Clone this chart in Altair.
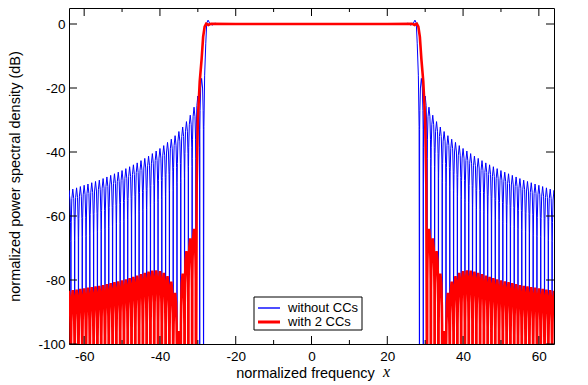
import altair as alt
import pandas as pd

# ---------------- data (right half, x >= 0; the figure is mirror-symmetric) -------------
series_names = ["without CCs", "with 2 CCs"]
series_colors = ["#0000ff", "#ff0000"]
series_widths = [1.0, 2.6]

# passband + roll-off of the curve without cancellation carriers
blue_pass_x = [0, 20, 24.5, 25.5, 26.2, 26.8, 27.3, 27.65, 27.9, 28.2, 28.4]
blue_pass_db = [0, 0, 0.0, 0.25, -0.35, 0.1, 1.2, 0.3, -6, -16, -32]
# side-lobe maxima (one lobe per unit of x, centred on integers)
blue_lobe_center = list(range(29, 65))
blue_lobe_peak_db = [-17, -22.5, -26, -28.5, -30.5, -32.2, -33.6, -34.9, -36.0, -37.0,
                     -38.0, -38.9, -39.7, -40.5, -41.3, -42.0, -42.7, -43.4, -44.0, -44.6,
                     -45.2, -45.8, -46.3, -46.8, -47.3, -47.8, -48.3, -48.8, -49.2, -49.6,
                     -50.0, -50.4, -50.8, -51.2, -51.6, -52.0]

# passband + roll-off with 2 cancellation carriers
red_pass_x = [0, 20, 26.5, 27.2, 27.8, 28.2, 28.6, 29.0, 29.5, 30.0, 30.3]
red_pass_db = [0, 0, 0.1, -0.3, 0.1, -0.8, -4, -11, -18, -30, -50]
red_lobe_center = list(range(31, 65))
red_lobe_peak_db = [-64, -67, -71, -78, -96, -84, -80.5, -78.8, -77.8, -77.2,
                    -77.0, -77.1, -77.4, -77.8, -78.2, -78.6, -79.0, -79.4, -79.8, -80.1,
                    -80.4, -80.7, -81.0, -81.3, -81.6, -81.8, -82.0, -82.2, -82.4, -82.6,
                    -82.8, -83.0, -83.2, -83.4]

# shape of one side lobe: offset from the lobe centre and drop below its maximum
lobe_offset = [-0.46, -0.4, -0.25, 0.0, 0.25, 0.4, 0.46]
lobe_drop_db = [-16, -10, -3, 0, -3, -10, -16]
null_db = -130  # spectral nulls fall below the bottom of the plot

x_major_ticks = [-60, -40, -20, 0, 20, 40, 60]
x_minor_ticks = [-50, -30, -10, 10, 30, 50]
y_major_ticks = [-100, -80, -60, -40, -20, 0]


def build(pass_x, pass_db, centers, peaks):
    xs, ys = list(pass_x), list(pass_db)
    for c, p in zip(centers, peaks):
        xs.append(c - 0.5)
        ys.append(null_db)
        for o, d in zip(lobe_offset, lobe_drop_db):
            xs.append(c + o)
            ys.append(p + d)
    xs.append(centers[-1] + 0.5)
    ys.append(null_db)
    left_x = [-v for v in reversed(xs[1:])]
    left_y = list(reversed(ys[1:]))
    return left_x + xs, left_y + ys


bx, by = build(blue_pass_x, blue_pass_db, blue_lobe_center, blue_lobe_peak_db)
rx, ry = build(red_pass_x, red_pass_db, red_lobe_center, red_lobe_peak_db)
df_blue = pd.DataFrame({"x": bx, "y": by, "series": series_names[0]})
df_red = pd.DataFrame({"x": rx, "y": ry, "series": series_names[1]})

W, H = 485, 336

xscale = alt.Scale(domain=[-64, 64], nice=False, zero=False)
yscale = alt.Scale(domain=[-100, 5], nice=False, zero=False)

xaxis = alt.Axis(values=x_major_ticks, title="normalized frequency", tickSize=0, domain=False,
                 grid=False, labelPadding=5, labelFontSize=13.5, labelColor="black",
                 labelExpr="'' + datum.value", titleFontSize=14.5, titleFontWeight="normal",
                 titleColor="black", titleX=236, titleY=33, titleAlign="center",
                 titleBaseline="alphabetic")
yaxis = alt.Axis(values=y_major_ticks, title="normalized power spectral density (dB)", tickSize=0,
                 domain=False, grid=False, labelPadding=4, labelFontSize=13.5, labelColor="black",
                 labelExpr="'' + datum.value", titleFontSize=14.5, titleFontWeight="normal",
                 titleColor="black", titleX=-50, titleY=H / 2, titleAngle=270, titleAlign="center",
                 titleBaseline="alphabetic")

color_scale = alt.Scale(domain=series_names, range=series_colors)
width_scale = alt.Scale(domain=series_names, range=series_widths)


def curve(df):
    return alt.Chart(df).mark_line(clip=True).encode(
        x=alt.X("x:Q", scale=xscale, axis=xaxis),
        y=alt.Y("y:Q", scale=yscale, axis=yaxis),
        color=alt.Color("series:N", scale=color_scale, legend=None),
        strokeWidth=alt.StrokeWidth("series:N", scale=width_scale, legend=None),
    )


def xticks(vals, length, top):
    d = pd.DataFrame({"x": vals})
    if top:
        yy, yy2 = alt.value(0), alt.value(length)
    else:
        yy, yy2 = alt.value(H), alt.value(H - length)
    return alt.Chart(d).mark_rule(color="black", strokeWidth=1).encode(
        x=alt.X("x:Q", scale=xscale, axis=xaxis), y=yy, y2=yy2)


def yticks(vals, length, right):
    d = pd.DataFrame({"y": vals})
    if right:
        xx, xx2 = alt.value(W), alt.value(W - length)
    else:
        xx, xx2 = alt.value(0), alt.value(length)
    return alt.Chart(d).mark_rule(color="black", strokeWidth=1).encode(
        y=alt.Y("y:Q", scale=yscale, axis=yaxis), x=xx, x2=xx2)


italic_x = alt.Chart(pd.DataFrame({"t": ["x"]})).mark_text(
    font="Liberation Serif", fontStyle="italic", fontSize=16, align="left",
    baseline="alphabetic", color="black").encode(
    x=alt.value(314), y=alt.value(H + 33), text="t:N")

# ---- legend box (inside the plot, bottom centre) ----
LX0, LX1, LY0, LY1 = 185, 293, 289, 322
legend_rows_y = [300, 314]
legend_box = alt.Chart(pd.DataFrame({"k": [0]})).mark_rect(
    fill="white", stroke="black", strokeWidth=1).encode(
    x=alt.value(LX0), x2=alt.value(LX1), y=alt.value(LY0), y2=alt.value(LY1))
legend_parts = [legend_box]
for name, col, wid, yy in zip(series_names, series_colors, series_widths, legend_rows_y):
    legend_parts.append(
        alt.Chart(pd.DataFrame({"t": [name]})).mark_rule(color=col, strokeWidth=wid + 0.4).encode(
            x=alt.value(LX0 + 4), x2=alt.value(LX0 + 26), y=alt.value(yy)))
    legend_parts.append(
        alt.Chart(pd.DataFrame({"t": [name]})).mark_text(
            fontSize=13, align="left", baseline="middle", color="black").encode(
            x=alt.value(LX0 + 34), y=alt.value(yy), text="t:N"))

chart = alt.layer(
    curve(df_blue), curve(df_red),
    xticks(x_major_ticks, 8, False), xticks(x_minor_ticks, 4, False),
    xticks(x_major_ticks, 8, True), xticks(x_minor_ticks, 4, True),
    yticks(y_major_ticks, 8, False), yticks(y_major_ticks, 8, True),
    italic_x, *legend_parts,
).properties(
    width=W, height=H,
    autosize=alt.AutoSizeParams(type="none"),
    padding={"left": 61, "top": 0, "right": 20, "bottom": 40},
).configure(
    font="Liberation Sans",
    background="white",
).configure_view(stroke="black", strokeWidth=1)

chart.save("out.html", embed_options={"renderer": "svg", "actions": False})
